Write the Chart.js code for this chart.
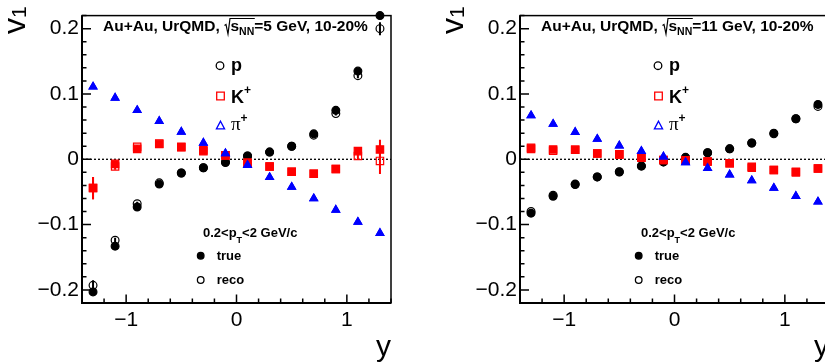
<!DOCTYPE html>
<html lang="en">
<head>
<meta charset="UTF-8">
<title>v1 vs y, UrQMD Au+Au 10-20%</title>
<script src="https://cdn.jsdelivr.net/npm/chart.js"></script>
<style>
  html, body { margin: 0; padding: 0; background: #fff; overflow: hidden; width: 825px; height: 363px; }
  .panel { position: absolute; top: 0; width: 438px; height: 363px; }
</style>
</head>
<body>
<div class="panel" style="left:0"><canvas id="c5" width="438" height="363"></canvas></div>
<div class="panel" style="left:438px"><canvas id="c11" width="438" height="363"></canvas></div>

<script>
    // rapidity bins (bin centres)
    const rapidity = [-1.3, -1.1, -0.9, -0.7, -0.5, -0.3, -0.1, 0.1, 0.3, 0.5, 0.7, 0.9, 1.1, 1.3];
    const xTicks = [-1, 0, 1];
    const yTicks = [-0.2, -0.1, 0, 0.1, 0.2];

    // sqrt(sNN) = 5 GeV
    const p5True  = [-0.203, -0.133, -0.073, -0.038, -0.021, -0.013, -0.005, 0.005, 0.011, 0.020, 0.039, 0.075, 0.135, 0.220];
    const p5Reco  = [-0.193, -0.124, -0.068, -0.036, -0.021, -0.013, -0.004, 0.005, 0.011, 0.020, 0.037, 0.070, 0.128, 0.200];
    const k5True  = [-0.044, -0.007, 0.016, 0.0235, 0.0185, 0.0125, 0.006, -0.005, -0.011, -0.019, -0.022, -0.015, 0.0125, 0.015];
    const k5Reco  = [-0.044, -0.011, 0.019, 0.024, 0.019, 0.014, 0.006, -0.006, -0.011, -0.019, -0.022, -0.015, 0.005, -0.0025];
    const pi5True = [0.111, 0.094, 0.075, 0.0585, 0.042, 0.025, 0.009, -0.009, -0.0275, -0.0425, -0.060, -0.0775, -0.096, -0.113];
    const pi5Reco = [0.111, 0.094, 0.075, 0.0585, 0.042, 0.025, 0.009, -0.009, -0.0275, -0.0425, -0.060, -0.0775, -0.096, -0.113];

    const p5TrueErr  = [0.004, 0.003, 0.002, 0.002, 0.002, 0.002, 0.002, 0.002, 0.002, 0.002, 0.002, 0.003, 0.003, 0.004];
    const p5RecoErr  = [0.008, 0.004, 0.003, 0.002, 0.002, 0.002, 0.002, 0.002, 0.002, 0.002, 0.003, 0.003, 0.004, 0.010];
    const k5TrueErr  = [0.017, 0.004, 0.003, 0.003, 0.003, 0.003, 0.003, 0.003, 0.003, 0.003, 0.003, 0.004, 0.005, 0.015];
    const k5RecoErr  = [0.017, 0.005, 0.003, 0.003, 0.003, 0.003, 0.003, 0.003, 0.003, 0.003, 0.003, 0.004, 0.006, 0.020];
    const pi5TrueErr = [0.002, 0.002, 0.002, 0.002, 0.002, 0.002, 0.002, 0.002, 0.002, 0.002, 0.002, 0.002, 0.002, 0.002];
    const pi5RecoErr = [0.002, 0.002, 0.002, 0.002, 0.002, 0.002, 0.002, 0.002, 0.002, 0.002, 0.002, 0.002, 0.002, 0.002];

    // sqrt(sNN) = 11 GeV
    const p11True  = [-0.0825, -0.0565, -0.0385, -0.027, -0.0195, -0.0105, -0.004, 0.0025, 0.010, 0.016, 0.025, 0.040, 0.062, 0.084];
    const p11Reco  = [-0.080, -0.055, -0.038, -0.027, -0.019, -0.010, -0.004, 0.003, 0.010, 0.016, 0.025, 0.039, 0.062, 0.081];
    const k11True  = [0.0175, 0.015, 0.0145, 0.009, 0.0075, 0.0025, -0.001, -0.0015, -0.0035, -0.006, -0.0115, -0.0165, -0.019, -0.014];
    const k11Reco  = [0.016, 0.013, 0.0145, 0.009, 0.0075, 0.0025, -0.001, -0.0015, -0.0035, -0.006, -0.013, -0.0165, -0.020, -0.014];
    const pi11True = [0.067, 0.054, 0.0415, 0.031, 0.021, 0.0125, 0.004, -0.005, -0.0135, -0.0235, -0.0325, -0.044, -0.0565, -0.065];
    const pi11Reco = [0.067, 0.054, 0.0415, 0.031, 0.021, 0.0125, 0.004, -0.005, -0.0135, -0.0235, -0.0325, -0.044, -0.0565, -0.065];

    const p11TrueErr  = [0.003, 0.002, 0.002, 0.002, 0.002, 0.002, 0.002, 0.002, 0.002, 0.002, 0.002, 0.002, 0.002, 0.003];
    const p11RecoErr  = [0.003, 0.002, 0.002, 0.002, 0.002, 0.002, 0.002, 0.002, 0.002, 0.002, 0.002, 0.002, 0.002, 0.003];
    const k11TrueErr  = [0.004, 0.003, 0.002, 0.002, 0.002, 0.002, 0.002, 0.002, 0.002, 0.002, 0.002, 0.003, 0.003, 0.005];
    const k11RecoErr  = [0.004, 0.003, 0.002, 0.002, 0.002, 0.002, 0.002, 0.002, 0.002, 0.002, 0.002, 0.003, 0.003, 0.005];
    const pi11TrueErr = [0.002, 0.002, 0.002, 0.002, 0.002, 0.002, 0.002, 0.002, 0.002, 0.002, 0.002, 0.002, 0.002, 0.002];
    const pi11RecoErr = [0.002, 0.002, 0.002, 0.002, 0.002, 0.002, 0.002, 0.002, 0.002, 0.002, 0.002, 0.002, 0.002, 0.002];

    const FONT = '"Liberation Sans", Arial, Helvetica, sans-serif';
    const SERIF = '"Liberation Serif", "DejaVu Serif", serif';
    const RED = '#ff0000';
    const BLUE = '#0000ff';

    function fmt(v) {
        const r = Math.round(v * 10) / 10;
        if (r === 0) return '0';
        return (r < 0 ? '\u2212' : '') + String(Math.abs(r));
    }

    function series(values, errors, style, color, filled, radius) {
        return {
            data: rapidity.map((x, i) => ({ x: x, y: values[i] })),
            errors: errors,
            pointStyle: style,
            pointRadius: radius,
            pointHoverRadius: radius,
            pointBorderWidth: 1.2,
            borderColor: color,
            backgroundColor: filled ? color : 'rgba(0,0,0,0)',
            showLine: false,
            clip: false
        };
    }

    // text pieces drawn one after another, with sub/superscript offsets
    function rich(ctx, x, y, parts) {
        parts.forEach(p => {
            ctx.font = p.font;
            ctx.fillText(p.t, x, y + (p.dy || 0));
            x += ctx.measureText(p.t).width;
        });
        return x;
    }

    function legendMarker(ctx, style, x, y, r, color, filled) {
        ctx.beginPath();
        if (style === 'circle') {
            ctx.arc(x, y, r, 0, Math.PI * 2);
        } else if (style === 'rect') {
            ctx.rect(x - r, y - r, 2 * r, 2 * r);
        } else {
            ctx.moveTo(x, y - r);
            ctx.lineTo(x + r * 0.95, y + r * 0.8);
            ctx.lineTo(x - r * 0.95, y + r * 0.8);
            ctx.closePath();
        }
        ctx.lineWidth = 1.3;
        ctx.strokeStyle = color;
        ctx.fillStyle = color;
        if (filled) ctx.fill();
        ctx.stroke();
    }

    const panelPlugin = {
        id: 'panel',
        beforeDatasetsDraw(chart) {
            const ctx = chart.ctx;
            const a = chart.chartArea;
            const xs = chart.scales.x, ys = chart.scales.y;
            ctx.save();

            // dotted zero line
            const y0 = ys.getPixelForValue(0);
            ctx.strokeStyle = '#000';
            ctx.lineWidth = 1.3;
            ctx.setLineDash([2, 2]);
            ctx.beginPath();
            ctx.moveTo(a.left, y0);
            ctx.lineTo(a.right, y0);
            ctx.stroke();
            ctx.setLineDash([]);

            // frame
            ctx.lineWidth = 1.5;
            ctx.strokeRect(a.left, a.top, a.right - a.left, a.bottom - a.top);
            ctx.lineWidth = 2;
            ctx.beginPath();
            ctx.moveTo(a.left, a.top);
            ctx.lineTo(a.left, a.bottom);
            ctx.lineTo(a.right, a.bottom);
            ctx.stroke();

            // inward ticks, ROOT style
            ctx.lineWidth = 1.5;
            ctx.beginPath();
            for (let k = -11; k <= 11; k++) {
                const v = k * 0.02;
                const p = ys.getPixelForValue(v);
                const len = (k % 5 === 0) ? 9 : 4.5;
                ctx.moveTo(a.left, p);
                ctx.lineTo(a.left + len, p);
            }
            for (let k = -7; k <= 7; k++) {
                const v = k * 0.2;
                const p = xs.getPixelForValue(v);
                const len = (k % 5 === 0) ? 8.5 : 4.5;
                ctx.moveTo(p, a.bottom);
                ctx.lineTo(p, a.bottom - len);
            }
            ctx.stroke();

            // error bars
            chart.data.datasets.forEach(ds => {
                if (!ds.errors) return;
                ctx.strokeStyle = ds.borderColor;
                ctx.lineWidth = 2;
                ctx.beginPath();
                ds.data.forEach((d, i) => {
                    const px = xs.getPixelForValue(d.x);
                    ctx.moveTo(px, ys.getPixelForValue(d.y - ds.errors[i]));
                    ctx.lineTo(px, ys.getPixelForValue(d.y + ds.errors[i]));
                });
                ctx.stroke();
            });
            ctx.restore();
        },
        afterDraw(chart, args, opts) {
            const ctx = chart.ctx;
            ctx.save();
            ctx.fillStyle = '#000';
            ctx.textAlign = 'left';
            ctx.textBaseline = 'alphabetic';

            // header with sqrt(sNN)
            const big = 'bold 15.5px ' + FONT;
            let x = rich(ctx, 103, 30.5, [{ t: 'Au+Au, UrQMD, ', font: big }]);
            const sx = x;
            x += 6.5;
            x = rich(ctx, x, 30.5, [
                { t: 's', font: big },
                { t: 'NN', font: 'bold 10.5px ' + FONT, dy: 4 }
            ]);
            ctx.strokeStyle = '#000';
            ctx.lineWidth = 1.2;
            ctx.beginPath();
            ctx.moveTo(sx + 0.5, 25.5);
            ctx.lineTo(sx + 2, 24.5);
            ctx.lineTo(sx + 4, 34);
            ctx.lineTo(sx + 6, 18.5);
            ctx.lineTo(x + 0.5, 18.5);
            ctx.stroke();
            rich(ctx, x, 30.5, [{ t: '=' + opts.energy + ' GeV, 10-20%', font: big }]);

            // species legend
            legendMarker(ctx, 'circle', 220, 65.7, 3.8, '#000', false);
            legendMarker(ctx, 'rect', 220.5, 96, 3.8, RED, false);
            legendMarker(ctx, 'tri', 220.5, 125.5, 4.3, BLUE, false);
            ctx.fillStyle = '#000';
            rich(ctx, 231, 71, [{ t: 'p', font: 'bold 18px ' + FONT }]);
            rich(ctx, 231, 103.3, [
                { t: 'K', font: 'bold 18px ' + FONT },
                { t: '+', font: 'bold 12px ' + FONT, dy: -9 }
            ]);
            rich(ctx, 231, 130, [
                { t: '\u03c0', font: '19px ' + SERIF },
                { t: '+', font: 'bold 12px ' + FONT, dy: -8 }
            ]);

            // pT window and true/reco legend
            rich(ctx, 203, 236.7, [
                { t: '0.2<p', font: 'bold 13px ' + FONT },
                { t: 'T', font: 'bold 9px ' + FONT, dy: 6 },
                { t: '<2 GeV/c', font: 'bold 13px ' + FONT }
            ]);
            legendMarker(ctx, 'circle', 200.7, 255.7, 3.3, '#000', true);
            legendMarker(ctx, 'circle', 200.7, 280, 3.3, '#000', false);
            ctx.fillStyle = '#000';
            rich(ctx, 216.7, 260, [{ t: 'true', font: 'bold 13px ' + FONT }]);
            rich(ctx, 216.7, 284.3, [{ t: 'reco', font: 'bold 13px ' + FONT }]);

            // axis titles
            ctx.save();
            ctx.translate(25, 0);
            ctx.rotate(-Math.PI / 2);
            rich(ctx, -34, 0, [
                { t: 'v', font: '32px ' + FONT },
                { t: '1', font: '21px ' + FONT, dy: 1 }
            ]);
            ctx.restore();
            ctx.textAlign = 'right';
            ctx.font = '30px ' + FONT;
            ctx.fillText('y', 391, 356);
            ctx.restore();
        }
    };

    function makeChart(id, energy, pTrue, pReco, kTrue, kReco, piTrue, piReco, errs) {
        return new Chart(document.getElementById(id), {
            type: 'scatter',
            data: {
                // first dataset is painted last (on top)
                datasets: [
                    series(piReco, errs[5], 'triangle', BLUE, false, 4.4),
                    series(piTrue, errs[4], 'triangle', BLUE, true, 4.4),
                    series(kReco, errs[3], 'rect', RED, false, 5.2),
                    series(kTrue, errs[2], 'rect', RED, true, 5.2),
                    series(pReco, errs[1], 'circle', '#000', false, 3.9),
                    series(pTrue, errs[0], 'circle', '#000', true, 3.9)
                ]
            },
            options: {
                responsive: false,
                animation: false,
                events: [],
                layout: { padding: { left: 0, top: 10, right: 47, bottom: 0 } },
                plugins: {
                    legend: { display: false },
                    tooltip: { enabled: false },
                    panel: { energy: energy }
                },
                scales: {
                    x: {
                        type: 'linear',
                        min: -1.4,
                        max: 1.4,
                        afterFit: s => { s.height = 60; },
                        afterBuildTicks: s => { s.ticks = xTicks.map(v => ({ value: v })); },
                        grid: { display: false, drawTicks: false },
                        border: { display: false },
                        ticks: {
                            padding: 5,
                            color: '#000',
                            maxRotation: 0,
                            minRotation: 0,
                            autoSkip: false,
                            font: { family: FONT, size: 21 },
                            callback: v => fmt(v)
                        }
                    },
                    y: {
                        type: 'linear',
                        min: -0.22,
                        max: 0.22,
                        afterFit: s => { s.width = 82; },
                        afterBuildTicks: s => { s.ticks = yTicks.map(v => ({ value: v })); },
                        grid: { display: false, drawTicks: false },
                        border: { display: false },
                        ticks: {
                            padding: 3,
                            color: '#000',
                            autoSkip: false,
                            font: { family: FONT, size: 21 },
                            callback: v => fmt(v)
                        }
                    }
                }
            },
            plugins: [panelPlugin]
        });
    }

    makeChart('c5', '5', p5True, p5Reco, k5True, k5Reco, pi5True, pi5Reco,
        [p5TrueErr, p5RecoErr, k5TrueErr, k5RecoErr, pi5TrueErr, pi5RecoErr]);
    makeChart('c11', '11', p11True, p11Reco, k11True, k11Reco, pi11True, pi11Reco,
        [p11TrueErr, p11RecoErr, k11TrueErr, k11RecoErr, pi11TrueErr, pi11RecoErr]);
</script>
</body>
</html>
